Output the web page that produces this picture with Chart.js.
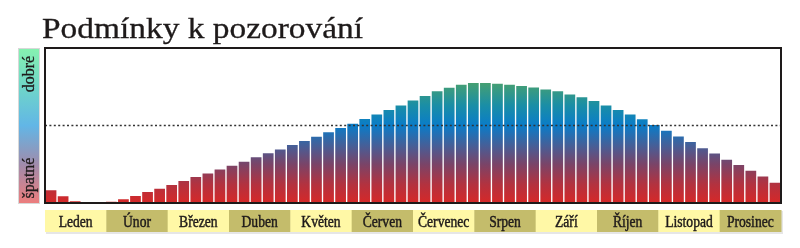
<!DOCTYPE html>
<html>
<head>
<meta charset="utf-8">
<script src="https://cdn.jsdelivr.net/npm/chart.js@4/dist/chart.umd.min.js"></script>
<style>
  html, body { margin: 0; padding: 0; background: #fff; }
  #wrap { width: 800px; height: 248px; position: relative; }
</style>
</head>
<body>
<div id="wrap"><canvas id="chart" width="800" height="248"></canvas></div>
<script>
const TITLE = 'Podmínky k pozorování';
const MONTHS = ['Leden','Únor','Březen','Duben','Květen','Červen',
                'Červenec','Srpen','Září','Říjen','Listopad','Prosinec'];
const SCALE_TOP = 'dobré';
const SCALE_BOTTOM = 'špatné';
const THRESHOLD = 50;

// observing conditions, one bar every ~6 days (0 = bad, 100 = good)
const CONDITIONS = [
  8.6, 4.8, 1.5, 0.5, 0.5, 1.3, 2.8, 5.0, 7.5, 9.7,
  12.0, 14.6, 17.2, 19.5, 22.0, 24.5, 27.0, 29.9, 32.5, 35.0,
  37.9, 40.5, 43.2, 46.0, 48.8, 51.6, 54.6, 57.6, 60.5, 63.4,
  66.5, 69.5, 72.5, 74.8, 76.8, 77.9, 77.9, 77.4, 76.8, 75.9,
  75.0, 73.7, 72.5, 70.5, 68.6, 66.3, 63.4, 60.5, 57.6, 54.5,
  50.8, 47.1, 43.4, 39.8, 35.7, 32.3, 28.4, 25.0, 21.3, 17.6,
  13.5
];
const BAR_LABELS = CONDITIONS.map((v, i) => String(i + 1));

const SERIF = '"Liberation Serif", "Times New Roman", serif';

let barGradient = null;
function barFill(context) {
  const { ctx, chartArea } = context.chart;
  if (!chartArea) return '#c33';
  if (!barGradient) {
    const g = ctx.createLinearGradient(0, chartArea.bottom, 0, chartArea.top);
    g.addColorStop(0.00, '#d62828');
    g.addColorStop(0.12, '#b3323f');
    g.addColorStop(0.25, '#7a4468');
    g.addColorStop(0.35, '#4f5a90');
    g.addColorStop(0.50, '#0a7cc8');
    g.addColorStop(0.63, '#1a8ea6');
    g.addColorStop(0.78, '#47a070');
    g.addColorStop(1.00, '#58a866');
    barGradient = g;
  }
  return barGradient;
}

// draws text filled plus a thin stroke, the original lettering is a bit heavier
function heavyText(ctx, text, x, y, weight) {
  ctx.fillText(text, x, y);
  ctx.lineWidth = weight;
  ctx.strokeStyle = ctx.fillStyle;
  ctx.strokeText(text, x, y);
}

// title, side scale and month strip
const decorations = {
  id: 'decorations',
  beforeDraw(chart) {
    const { ctx, chartArea: a } = chart;
    ctx.save();

    // title, stretched a bit to the original width
    ctx.fillStyle = '#1e1a1a';
    ctx.font = '29px ' + SERIF;
    ctx.textBaseline = 'alphabetic';
    const tw = ctx.measureText(TITLE).width;
    ctx.save();
    ctx.translate(42, 37.5);
    ctx.scale(321 / tw, 1);
    heavyText(ctx, TITLE, 0, 0, 0.3);
    ctx.restore();

    // side scale bar
    const sx = 18, sw = 21;
    const sg = ctx.createLinearGradient(0, a.top, 0, a.bottom);
    sg.addColorStop(0.00, '#86f2b0');
    sg.addColorStop(0.25, '#6fd6c8');
    sg.addColorStop(0.50, '#62b6e6');
    sg.addColorStop(0.75, '#a08cac');
    sg.addColorStop(1.00, '#ec7d7d');
    ctx.fillStyle = sg;
    ctx.fillRect(sx, a.top, sw, a.bottom - a.top);
    ctx.strokeStyle = '#d8d8d8';
    ctx.lineWidth = 1;
    ctx.strokeRect(sx + 0.5, a.top + 0.5, sw, a.bottom - a.top);

    ctx.fillStyle = '#1e1a1a';
    ctx.font = '16px ' + SERIF;
    ctx.textAlign = 'center';
    ctx.save();
    ctx.translate(34, 74);
    ctx.rotate(-Math.PI / 2);
    heavyText(ctx, SCALE_TOP, 0, 0, 0.3);
    ctx.restore();
    ctx.save();
    ctx.translate(34, 178);
    ctx.rotate(-Math.PI / 2);
    heavyText(ctx, SCALE_BOTTOM, 0, 0, 0.3);
    ctx.restore();

    // month strip
    const top = 210, h = 22;
    const mw = (a.right - a.left) / MONTHS.length;
    ctx.fillStyle = '#e6e6e6';
    ctx.fillRect(a.left + 1, top + 1, a.right - a.left + 1, h + 1);
    MONTHS.forEach((m, i) => {
      const x = a.left + i * mw;
      ctx.fillStyle = i % 2 === 0 ? '#fff8a6' : '#c4bc6b';
      ctx.fillRect(x, top, mw + 0.5, h);
      ctx.save();
      ctx.translate(x + mw / 2, top + h / 2 + 5.5);
      ctx.scale(0.85, 1);
      ctx.fillStyle = '#1e1a1a';
      ctx.font = '16px ' + SERIF;
      ctx.textAlign = 'center';
      heavyText(ctx, m, 0, 0, 0.45);
      ctx.restore();
    });
    ctx.restore();
  },
  afterDatasetsDraw(chart) {
    const { ctx, chartArea: a, scales } = chart;
    const y = scales.y.getPixelForValue(THRESHOLD);
    ctx.save();
    ctx.strokeStyle = '#333';
    ctx.lineWidth = 1.6;
    ctx.setLineDash([2, 2.4]);
    ctx.beginPath();
    ctx.moveTo(a.left, y);
    ctx.lineTo(a.right, y);
    ctx.stroke();
    ctx.setLineDash([]);
    ctx.strokeStyle = '#1e1a1a';
    ctx.lineWidth = 2;
    ctx.strokeRect(a.left, a.top, a.right - a.left, a.bottom - a.top);
    ctx.restore();
  }
};

new Chart(document.getElementById('chart'), {
  type: 'bar',
  data: {
    labels: BAR_LABELS,
    datasets: [{
      data: CONDITIONS,
      backgroundColor: barFill,
      borderColor: 'rgba(255,255,255,0.5)',
      borderWidth: 1,
      barPercentage: 1,
      categoryPercentage: 1,
      borderSkipped: 'bottom'
    }]
  },
  options: {
    responsive: false,
    animation: false,
    layout: { padding: { left: 45, right: 19, top: 48, bottom: 45 } },
    plugins: { legend: { display: false }, tooltip: { enabled: false } },
    scales: {
      x: { display: false },
      y: { display: false, min: 0, max: 100 }
    }
  },
  plugins: [decorations]
});
</script>
</body>
</html>
